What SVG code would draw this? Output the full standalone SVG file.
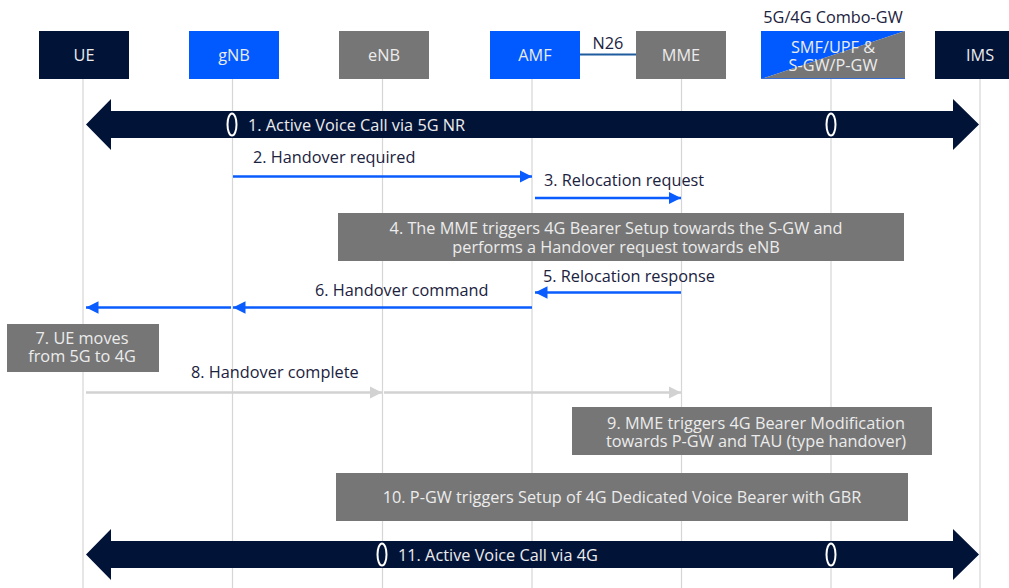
<svg xmlns="http://www.w3.org/2000/svg" width="1009" height="588" viewBox="0 0 1009 588">
<defs>
<style>
text{font-family:"Open Sans","Noto Sans","Liberation Sans",sans-serif;font-size:16.3px}
.lbl{fill:#1b2240}
.wt{fill:#ececec;text-anchor:middle;dominant-baseline:central}
.life{stroke:#d6d6d6;stroke-width:1.2}
.blue{stroke:#0a5cff;stroke-width:2.5;fill:none}
.grey{stroke:#d2d2d2;stroke-width:2.5;fill:none}
.gbox{fill:#767676}
.big{fill:#021338}
.ell{fill:none;stroke:#ffffff;stroke-width:2}
</style>
<marker id="ab" viewBox="0 0 10 10" refX="10" refY="5" markerWidth="5" markerHeight="5" markerUnits="strokeWidth" orient="auto"><path d="M0,0L10,5L0,10z" fill="#0a5cff"/></marker>
<marker id="ag" viewBox="0 0 10 10" refX="10" refY="5" markerWidth="5" markerHeight="5" markerUnits="strokeWidth" orient="auto"><path d="M0,0L10,5L0,10z" fill="#d2d2d2"/></marker>
</defs>
<rect width="1009" height="588" fill="#ffffff"/>
<g id="lifelines">
<line class="life" x1="83" y1="79" x2="83" y2="588"/>
<line class="life" x1="232.5" y1="79" x2="232.5" y2="588"/>
<line class="life" x1="382.5" y1="79" x2="382.5" y2="588"/>
<line class="life" x1="532" y1="79" x2="532" y2="588"/>
<line class="life" x1="681.5" y1="79" x2="681.5" y2="588"/>
<line class="life" x1="831" y1="79" x2="831" y2="588"/>
<line class="life" x1="980" y1="79" x2="980" y2="588"/>
</g>
<g id="UE"><rect x="39" y="31" width="90" height="48" fill="#021338"/><text class="wt" x="84" y="55">UE</text></g>
<g id="gNB"><rect x="189" y="31" width="90" height="48" fill="#005aff"/><text class="wt" x="234" y="55">gNB</text></g>
<g id="eNB"><rect x="339" y="31" width="90" height="48" fill="#767676"/><text class="wt" x="384" y="55">eNB</text></g>
<g id="AMF"><rect x="490" y="31" width="90" height="48" fill="#005aff"/><text class="wt" x="535" y="55">AMF</text></g>
<g id="MME"><rect x="636" y="31" width="90" height="48" fill="#767676"/><text class="wt" x="681" y="55">MME</text></g>
<g id="ComboGW">
<text class="lbl" x="833" y="23" text-anchor="middle">5G/4G Combo-GW</text>
<polygon points="761,31 905,31 761,79" fill="#005aff"/>
<polygon points="905,31 905,79 761,79" fill="#767676"/>
<line x1="761" y1="78.5" x2="905" y2="78.5" stroke="#3a6fd0" stroke-width="1"/>
<text class="wt" x="833" y="47">SMF/UPF &amp;<tspan x="833" dy="18">S-GW/P-GW</tspan></text>
</g>
<g id="IMS"><rect x="935" y="31" width="90" height="48" fill="#021338"/><text class="wt" x="980" y="55">IMS</text></g>
<g id="N26">
<line x1="580" y1="54.5" x2="636" y2="54.5" stroke="#1f5c9e" stroke-width="2"/>
<text class="lbl" x="608" y="49" text-anchor="middle">N26</text>
</g>
<g id="step1">
<polygon class="big" points="86,124.5 111,99 111,111 953,111 953,99 979,124.5 953,150 953,138 111,138 111,150"/>
<ellipse class="ell" cx="232" cy="124.5" rx="4.5" ry="11"/>
<ellipse class="ell" cx="831" cy="124.5" rx="4.5" ry="11"/>
<text x="248" y="125" fill="#ececec" dominant-baseline="central">1. Active Voice Call via 5G NR</text>
</g>
<g id="connectors">
<line class="blue" x1="233" y1="176.5" x2="532" y2="176.5" marker-end="url(#ab)"/>
<line class="blue" x1="535" y1="198" x2="681" y2="198" marker-end="url(#ab)"/>
<line class="blue" x1="681" y1="292.5" x2="535" y2="292.5" marker-end="url(#ab)"/>
<line class="blue" x1="532" y1="307.5" x2="233" y2="307.5" marker-end="url(#ab)"/>
<line class="blue" x1="231" y1="307.5" x2="86" y2="307.5" marker-end="url(#ab)"/>
<line class="grey" x1="86" y1="392.5" x2="382" y2="392.5" marker-end="url(#ag)"/>
<line class="grey" x1="384" y1="392.5" x2="681" y2="392.5" marker-end="url(#ag)"/>
</g>
<g id="labels">
<text class="lbl" x="253" y="163">2. Handover required</text>
<text class="lbl" x="544" y="186">3. Relocation request</text>
<text class="lbl" x="543" y="282">5. Relocation response</text>
<text class="lbl" x="315" y="296">6. Handover command</text>
<text class="lbl" x="191" y="378">8. Handover complete</text>
</g>
<g id="step4"><rect class="gbox" x="338" y="213" width="566" height="48"/>
<text class="wt" x="616" y="228">4. The MME triggers 4G Bearer Setup towards the S-GW and<tspan x="616" dy="19">performs a Handover request towards eNB</tspan></text></g>
<g id="step7"><rect class="gbox" x="7" y="324" width="152" height="48"/>
<text class="wt" x="82" y="338">7. UE moves<tspan x="82" dy="18">from 5G to 4G</tspan></text></g>
<g id="step9"><rect class="gbox" x="572" y="407" width="360" height="48"/>
<text class="wt" x="756" y="423">9. MME triggers 4G Bearer Modification<tspan x="756" dy="18">towards P-GW and TAU (type handover)</tspan></text></g>
<g id="step10"><rect class="gbox" x="336" y="473" width="572" height="48"/>
<text class="wt" x="622" y="497">10. P-GW triggers Setup of 4G Dedicated Voice Bearer with GBR</text></g>
<g id="step11">
<polygon class="big" points="86,554.5 111,529 111,541 953,541 953,529 979,554.5 953,580 953,568 111,568 111,580"/>
<ellipse class="ell" cx="382" cy="554.5" rx="4.5" ry="11"/>
<ellipse class="ell" cx="831" cy="554.5" rx="4.5" ry="11"/>
<text x="398" y="555" fill="#ececec" dominant-baseline="central">11. Active Voice Call via 4G</text>
</g>
</svg>
